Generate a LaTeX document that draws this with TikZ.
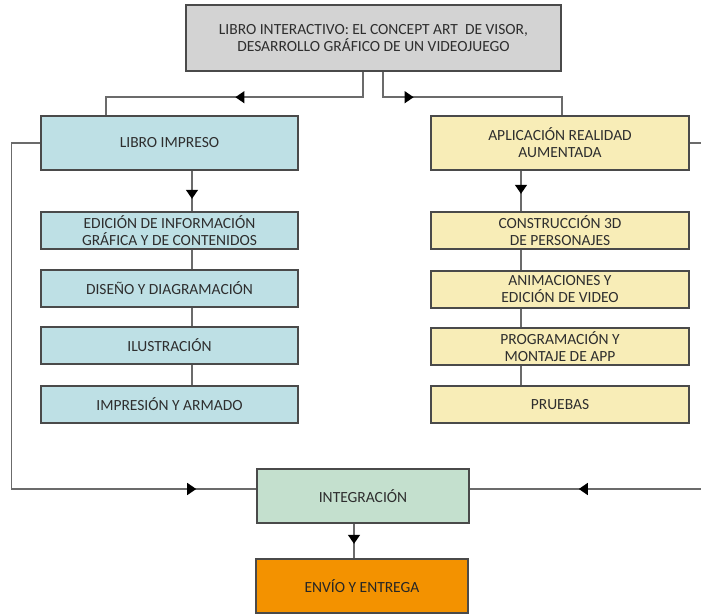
\documentclass[tikz,border=0pt]{standalone}
\usepackage{fontspec}
\setmainfont{Carlito}
\usetikzlibrary{arrows.meta,decorations.markings}
\definecolor{cgray}{HTML}{D3D3D3}
\definecolor{cblue}{HTML}{BEE0E5}
\definecolor{cyellow}{HTML}{F8EDB7}
\definecolor{cgreen}{HTML}{C4E0CE}
\definecolor{corange}{HTML}{F39200}
\definecolor{cborder}{HTML}{4A4A4A}
\definecolor{cline}{HTML}{6B6B6B}
\definecolor{ctext}{HTML}{2E2E2E}
\tikzset{
  box/.style={draw=cborder, line width=1.6pt, inner sep=0pt, align=center,
    text=ctext, font=\fontsize{15.5}{17}\selectfont},
  bluebox/.style={box, fill=cblue, minimum width=257pt, minimum height=37pt},
  yellowbox/.style={box, fill=cyellow, minimum width=258pt, minimum height=37pt},
  conn/.style={draw=cline, line width=1.4pt},
  midarr/.style={postaction={decorate}, decoration={markings,
    mark=at position #1 with {\arrow[black]{Triangle[length=9pt,width=12pt]}}}}
}
\begin{document}
\begin{tikzpicture}[x=1pt,y=-1pt]
\useasboundingbox (0,0) rectangle (701,615);
\clip (0,0) rectangle (701,615);
% nodes
\node[box, fill=cgray, minimum width=375pt, minimum height=66pt] (top) at (373.5,38)
  {LIBRO INTERACTIVO: EL CONCEPT ART~ DE VISOR,\\DESARROLLO GRÁFICO DE UN VIDEOJUEGO};
\node[bluebox, minimum height=54pt] (libro) at (169.5,143) {LIBRO IMPRESO};
\node[bluebox] (edicion) at (169.5,230.5) {EDICIÓN DE INFORMACIÓN\\GRÁFICA Y DE CONTENIDOS};
\node[bluebox] (diseno) at (169.5,288.5) {DISEÑO Y DIAGRAMACIÓN};
\node[bluebox] (ilus) at (169.5,345.5) {ILUSTRACIÓN};
\node[bluebox] (impresion) at (169.5,404.5) {IMPRESIÓN Y ARMADO};
\node[yellowbox, minimum height=54pt] (app) at (560,143) {APLICACIÓN REALIDAD\\AUMENTADA};
\node[yellowbox] (constr) at (560,230.5) {CONSTRUCCIÓN 3D\\DE PERSONAJES};
\node[yellowbox] (anim) at (560,289.5) {ANIMACIONES Y\\EDICIÓN DE VIDEO};
\node[yellowbox] (prog) at (560,346.5) {PROGRAMACIÓN Y\\MONTAJE DE APP};
\node[yellowbox] (pruebas) at (560,404.5) {PRUEBAS};
\node[box, fill=cgreen, minimum width=212pt, minimum height=54pt] (integ) at (363,496) {INTEGRACIÓN};
\node[box, fill=corange, minimum width=212pt, minimum height=54pt, text=black!85] (envio) at (362,586) {ENVÍO Y ENTREGA};
% connectors
\path[conn, midarr=153pt] ([xshift=-10.5pt]top.south) |- ([xshift=-63.5pt,yshift=18pt]libro.north) -- ([xshift=-63.5pt]libro.north);
\path[conn, midarr=56pt] ([xshift=9.5pt]top.south) |- ([xshift=2pt,yshift=18pt]app.north) -- ([xshift=2pt]app.north);
\path[conn, midarr=28pt] ([xshift=22.5pt]libro.south) -- ([xshift=22.5pt]edicion.north);
\path[conn] ([xshift=22.5pt]edicion.south) -- ([xshift=22.5pt]diseno.north);
\path[conn] ([xshift=22.5pt]diseno.south) -- ([xshift=22.5pt]ilus.north);
\path[conn] ([xshift=22.5pt]ilus.south) -- ([xshift=22.5pt]impresion.north);
\path[conn, midarr=23pt] ([xshift=-39pt]app.south) -- ([xshift=-39pt]constr.north);
\path[conn] ([xshift=-39pt]constr.south) -- ([xshift=-39pt]anim.north);
\path[conn] ([xshift=-39pt]anim.south) -- ([xshift=-39pt]prog.north);
\path[conn] ([xshift=-39pt]prog.south) -- ([xshift=-39pt]pruebas.north);
\path[conn, midarr=560pt] (libro.west) -| ([xshift=-245pt,yshift=7pt]integ.west) -- ([yshift=7pt]integ.west);
\path[conn, midarr=495pt] (app.east) -| ([xshift=239pt,yshift=7pt]integ.east) -- ([yshift=7pt]integ.east);
\path[conn, midarr=20pt] ([xshift=-9pt]integ.south) -- ([xshift=-8pt]envio.north);
\end{tikzpicture}
\end{document}
